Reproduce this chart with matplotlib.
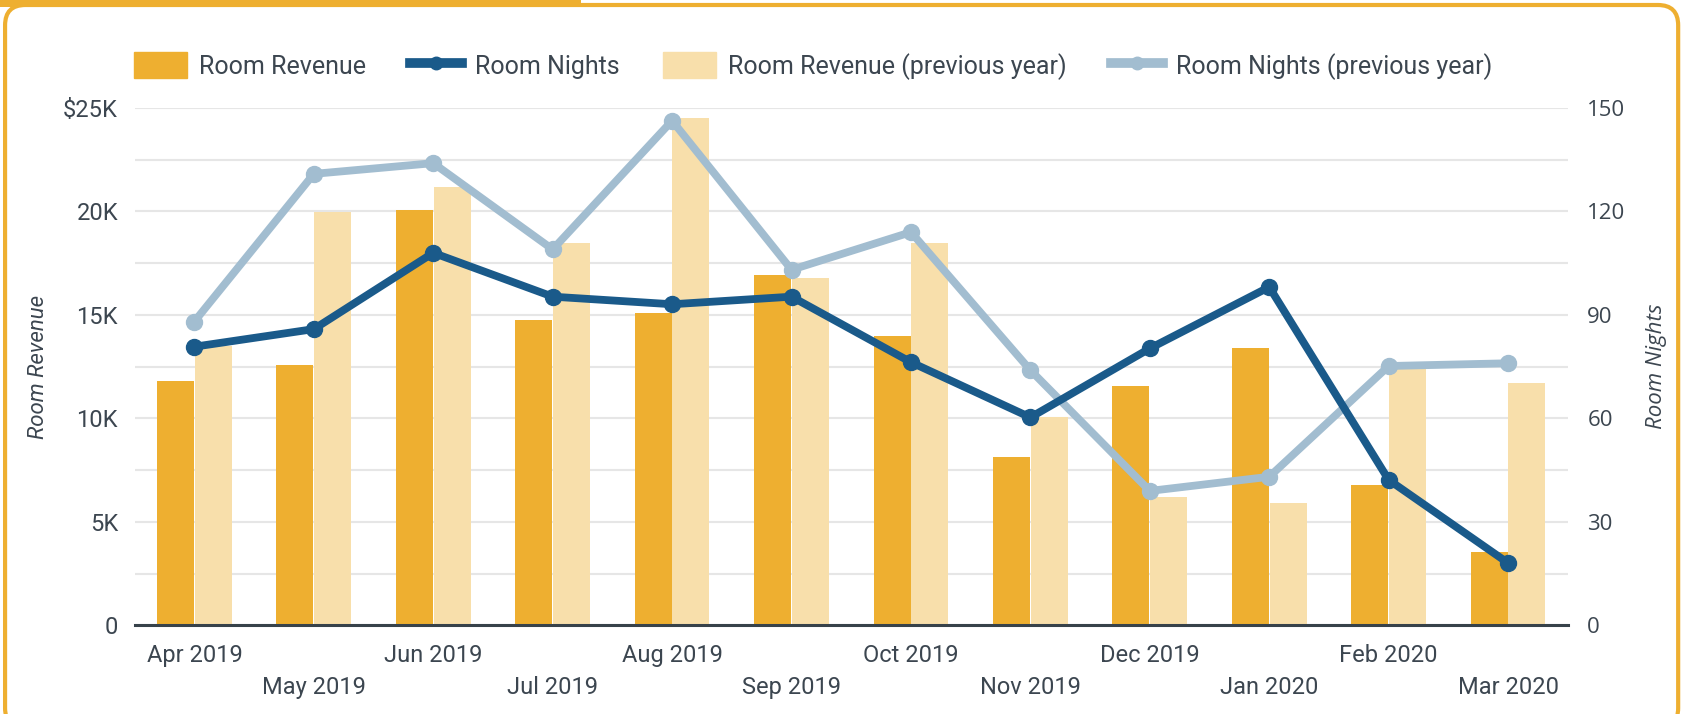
import matplotlib
matplotlib.use('Agg')

import matplotlib.pyplot as plt
import numpy as np
from matplotlib.patches import FancyBboxPatch, Rectangle
from matplotlib.lines import Line2D
from matplotlib.ticker import FuncFormatter

plt.rcParams['font.family'] = ['Roboto', 'DejaVu Sans']

# Datos
meses = ['Apr 2019', 'May 2019', 'Jun 2019', 'Jul 2019', 'Aug 2019', 'Sep 2019',
         'Oct 2019', 'Nov 2019', 'Dec 2019', 'Jan 2020', 'Feb 2020', 'Mar 2020']
room_revenue = [11820, 12600, 20050, 14740, 15100, 16930,
                13960, 8130, 11560, 13390, 6770, 3540]
room_revenue_prev = [13520, 19950, 21200, 18500, 24500, 16800,
                     18500, 10050, 6200, 5940, 12380, 11730]
room_nights = [80.8, 85.9, 108, 95.3, 93.1, 95.3,
               76.3, 60.3, 80.3, 98.1, 42.2, 18.1]
room_nights_prev = [88.1, 130.9, 134, 109, 146.3, 103.1,
                    114, 74, 39, 43.1, 75.2, 76]

c_rev = '#EEAF30'
c_rev_prev = '#F8DFAB'
c_nights = '#1A5A8A'
c_nights_prev = '#A2BDD0'
c_texto = '#3C4650'

fig = plt.figure(figsize=(16.9, 7.14), dpi=100)

# Marco con esquinas redondeadas
marco = FancyBboxPatch((0.003, -0.02), 0.99, 1.013,
                       boxstyle='round,pad=0,rounding_size=0.012',
                       transform=fig.transFigure, facecolor='white',
                       edgecolor=c_rev, linewidth=3, zorder=0,
                       mutation_aspect=1690 / 714)
fig.patches.append(marco)
fig.patches.append(Rectangle((0, 0.99), 0.344, 0.02, transform=fig.transFigure,
                             facecolor=c_rev, edgecolor='none', zorder=1))

ax = fig.add_axes([0.0797, 0.124, 0.848, 0.7248])
ax2 = ax.twinx()
ax.set_zorder(1)
ax2.set_zorder(2)
ax.patch.set_visible(False)
ax2.patch.set_visible(False)

x = np.arange(len(meses))
ancho = 0.31
ax.bar(x - ancho / 2 - 0.003, room_revenue, ancho, color=c_rev, zorder=3)
ax.bar(x + ancho / 2 + 0.003, room_revenue_prev, ancho, color=c_rev_prev, zorder=3)

ax2.plot(x, room_nights_prev, color=c_nights_prev, lw=5.6, marker='o', ms=11.5,
         solid_capstyle='round', zorder=4)
ax2.plot(x, room_nights, color=c_nights, lw=5.6, marker='o', ms=11.5,
         solid_capstyle='round', zorder=5)

ax.set_xlim(-0.5, len(meses) - 0.5)
ax.set_ylim(0, 25000)
ax2.set_ylim(0, 150)

ax.set_yticks(np.arange(0, 25001, 5000))
ax.set_yticks(np.arange(0, 25001, 2500), minor=True)
ax.yaxis.set_major_formatter(FuncFormatter(
    lambda v, p: '0' if v == 0 else ('$%dK' % (v / 1000) if v == 25000 else '%dK' % (v / 1000))))
ax.grid(axis='y', which='both', color='#E6E6E6', lw=1.5, zorder=0)
ax.tick_params(axis='y', which='both', length=0, labelsize=17, labelcolor=c_texto, pad=12)
ax2.set_yticks(np.arange(0, 151, 30))
ax2.tick_params(axis='y', length=0, labelsize=16, labelcolor=c_texto, pad=14)
for t in ax2.get_yticklabels():
    t.set_family(['Open Sans', 'DejaVu Sans'])

ax.set_xticks(x)
ax.set_xticklabels([])
ax.tick_params(axis='x', length=0)
for i, m in enumerate(meses):
    ax.annotate(m, xy=(i, 0), xycoords=('data', 'axes fraction'),
                xytext=(0, -13.5 if i % 2 == 0 else -36.5), textcoords='offset points',
                ha='center', va='top', fontsize=17, color=c_texto)

for s in ['top', 'left', 'right']:
    ax.spines[s].set_visible(False)
    ax2.spines[s].set_visible(False)
ax2.spines['bottom'].set_visible(False)
ax.spines['bottom'].set_color('#37424A')
ax.spines['bottom'].set_linewidth(2.2)
ax.spines['bottom'].set_zorder(6)

ax.set_ylabel('Room Revenue', fontsize=16, style='italic', color=c_texto, labelpad=10)
ax2.set_ylabel('Room Nights', fontsize=16, style='italic', color=c_texto, labelpad=15,
               rotation=90, family=['Open Sans', 'DejaVu Sans'])

handles = [
    Rectangle((0, 0), 1, 1, color=c_rev),
    Line2D([], [], color=c_nights, lw=7, marker='o', ms=9),
    Rectangle((0, 0), 1, 1, color=c_rev_prev),
    Line2D([], [], color=c_nights_prev, lw=7, marker='o', ms=9),
]
etiquetas = ['Room Revenue', 'Room Nights', 'Room Revenue (previous year)',
             'Room Nights (previous year)']
leg = fig.legend(handles, etiquetas, loc='upper left', bbox_to_anchor=(0.066, 0.958),
                 ncol=4, frameon=False, fontsize=18, handlelength=2.1, handleheight=1.2,
                 handletextpad=0.5, columnspacing=1.75)
for t in leg.get_texts():
    t.set_color(c_texto)

plt.savefig('out.png', dpi=100)
plt.close(fig)
